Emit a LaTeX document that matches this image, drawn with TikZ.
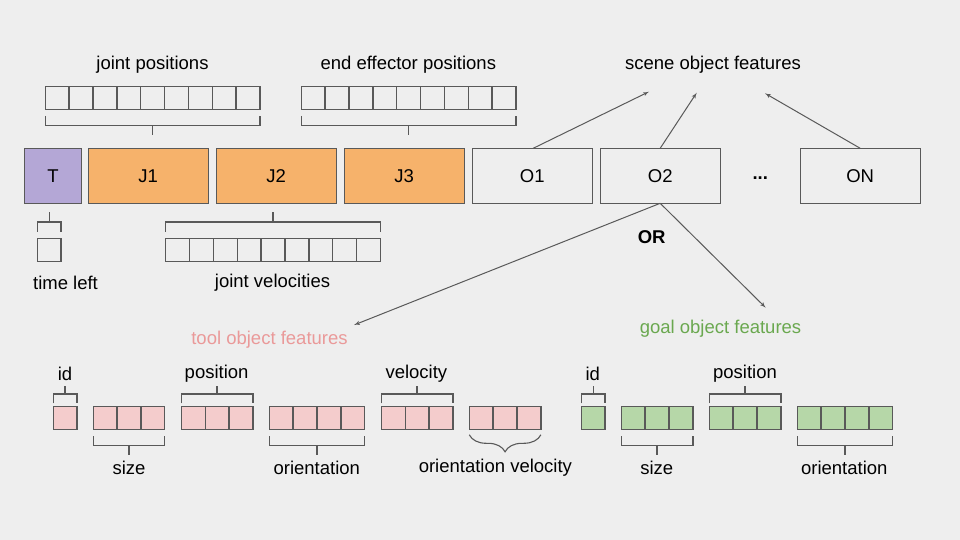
\documentclass[tikz,border=0pt]{standalone}
\usepackage{fontspec}
\setmainfont{Liberation Sans}
\usepackage{tikz}
\definecolor{bgcol}{HTML}{EEEEEE}
\definecolor{edgecol}{HTML}{595959}
\definecolor{timecol}{HTML}{B4A7D6}
\definecolor{jointcol}{HTML}{F6B26B}
\definecolor{toolcol}{HTML}{F4CCCC}
\definecolor{goalcol}{HTML}{B6D7A8}
\definecolor{tooltext}{HTML}{EA9999}
\definecolor{goaltext}{HTML}{6AA84F}
\usetikzlibrary{shapes,arrows,positioning,calc,decorations.pathreplacing}
\tikzstyle{block} = [rectangle, draw=edgecol, line width=1.4pt, outer sep=0pt,
    minimum width=120pt, minimum height=55pt, inner sep=0pt,
    font=\fontsize{18.5}{22}\selectfont]
\tikzstyle{cell} = [rectangle, draw=edgecol, line width=1.4pt, outer sep=0pt,
    minimum width=23.85pt, minimum height=23pt, inner sep=0pt]
\tikzstyle{line} = [draw=edgecol, line width=1pt, -latex']
\tikzstyle{bracket} = [draw=edgecol, line width=1.4pt]
\tikzstyle{txt} = [inner sep=0pt, font=\fontsize{18.5}{22}\selectfont]
% a row of feature cells: name, left x, centre y, count, fill
\newcommand{\cellrow}[5]{\foreach \i in {1,...,#4}
    \node [cell, fill=#5] (#1\i) at ({#2+23.85*(\i-0.5)},#3) {};}
% square brackets under / over a run of cells
\newcommand{\bracketbelow}[3]{%
    \draw [bracket] ($(#1.south west)+(0,#3)$) -- ++(0,9.3) -- ($(#2.south east)+(0,#3+9.3)$) -- ++(0,-9.3);
    \draw [bracket] ($(#1.south west)!0.5!(#2.south east)+(0,#3+9.3)$) -- ++(0,9.5);}
\newcommand{\bracketabove}[4]{%
    \draw [bracket] ($(#1.north west)+(0,-#3)$) -- ++(0,-9.5) -- ($(#2.north east)+(0,-#3-9.5)$) -- ++(0,9.5);
    \draw [bracket] ($(#1.north west)!0.5!(#2.north east)+(0,-#3-9.5)$) -- ++(0,-#4);}

\begin{document}
\begin{tikzpicture}[x=1pt, y=-1pt, node distance=8pt]
    \fill [bgcol] (0,0) rectangle (960,540);
    \useasboundingbox (0,0) rectangle (960,540);
    % Place nodes
    \node [block, fill=timecol, minimum width=57.4pt] (T) at (53,175.8) {T};
    \node [block, fill=jointcol, right=6.5pt of T] (J1) {J1};
    \node [block, fill=jointcol, right=of J1] (J2) {J2};
    \node [block, fill=jointcol, right=of J2] (J3) {J3};
    \node [block, right=of J3] (O1) {O1};
    \node [block, right=of O1] (O2) {O2};
    \node [block, right=80pt of O2] (ON) {ON};
    \node [txt] (dots) at ($(O2)!0.5!(ON)+(0,2.5)$) {\textbf{...}};
    % feature cells
    \cellrow{jp}{45.3}{97.8}{9}{none}
    \cellrow{ee}{301.3}{97.8}{9}{none}
    \cellrow{tl}{37.3}{249.7}{1}{none}
    \cellrow{jv}{165.7}{249.7}{9}{none}
    \cellrow{tid}{53.2}{417.8}{1}{toolcol}
    \cellrow{tsz}{93.2}{417.8}{3}{toolcol}
    \cellrow{tps}{181.4}{417.8}{3}{toolcol}
    \cellrow{tor}{269.3}{417.8}{4}{toolcol}
    \cellrow{tvl}{381.4}{417.8}{3}{toolcol}
    \cellrow{tov}{469.3}{417.8}{3}{toolcol}
    \cellrow{gid}{581.3}{417.8}{1}{goalcol}
    \cellrow{gsz}{621.3}{417.8}{3}{goalcol}
    \cellrow{gps}{709.3}{417.8}{3}{goalcol}
    \cellrow{gor}{797.3}{417.8}{4}{goalcol}
    % labels
    \node [txt] (jpl) at (152.5,65) {joint positions};
    \node [txt] (eel) at (408.3,65) {end effector positions};
    \node [txt] (scene) at (713,65) {scene object features};
    \node [txt] (tll) at (65.5,282.5) {time left};
    \node [txt] (jvl) at (272.5,282.5) {joint velocities};
    \node [txt] (or) at (651.7,237.5) {\textbf{OR}};
    \node [txt, text=tooltext] (tool) at (269.5,340) {tool object features};
    \node [txt, text=goaltext] (goal) at (720.5,328.5) {goal object features};
    \node [txt] (tidl) at (65,373.5) {id};
    \node [txt] (tpsl) at (216.6,373.5) {position};
    \node [txt] (tvll) at (416.4,373.5) {velocity};
    \node [txt] (tszl) at (129,467.5) {size};
    \node [txt] (torl) at (316.8,467.5) {orientation};
    \node [txt] (tovl) at (495.4,467.5) {orientation velocity};
    \node [txt] (gidl) at (592.7,373.5) {id};
    \node [txt] (gpsl) at (745,373.5) {position};
    \node [txt] (gszl) at (656.7,467.5) {size};
    \node [txt] (gorl) at (844.3,467.5) {orientation};
    % arrow ends
    \coordinate (s1) at (649,91.7);
    \coordinate (s2) at (696.7,92.7);
    \coordinate (s3) at (765,93.3);
    \coordinate (toolend) at (354,325);
    \coordinate (goalend) at (765.7,307.7);
    % Draw brackets
    \bracketbelow{jp1}{jp9}{6.7}
    \bracketbelow{ee1}{ee9}{6.7}
    \bracketabove{tl1}{tl1}{6.6}{10}
    \bracketabove{jv1}{jv9}{6.6}{10}
    \bracketabove{tid1}{tid1}{3}{7.6}
    \bracketabove{tps1}{tps3}{3}{7.6}
    \bracketabove{tvl1}{tvl3}{3}{7.6}
    \bracketabove{gid1}{gid1}{3}{7.6}
    \bracketabove{gps1}{gps3}{3}{7.6}
    \bracketbelow{tsz1}{tsz3}{6.7}
    \bracketbelow{tor1}{tor4}{6.7}
    \bracketbelow{gsz1}{gsz3}{6.7}
    \bracketbelow{gor1}{gor4}{6.7}
    \draw [draw=edgecol, line width=1.1pt, decorate, decoration={brace, mirror, amplitude=17pt}]
        ($(tov1.south west)+(0,5.5)$) -- ($(tov3.south east)+(0,5.5)$);
    % Draw edges
    \path [line] ([xshift=1pt]O1.north) -- (s1);
    \path [line] (O2.north) -- (s2);
    \path [line] (ON.north) -- (s3);
    \path [line] (O2.south) -- (toolend);
    \path [line] (O2.south) -- (goalend);
\end{tikzpicture}
\end{document}
